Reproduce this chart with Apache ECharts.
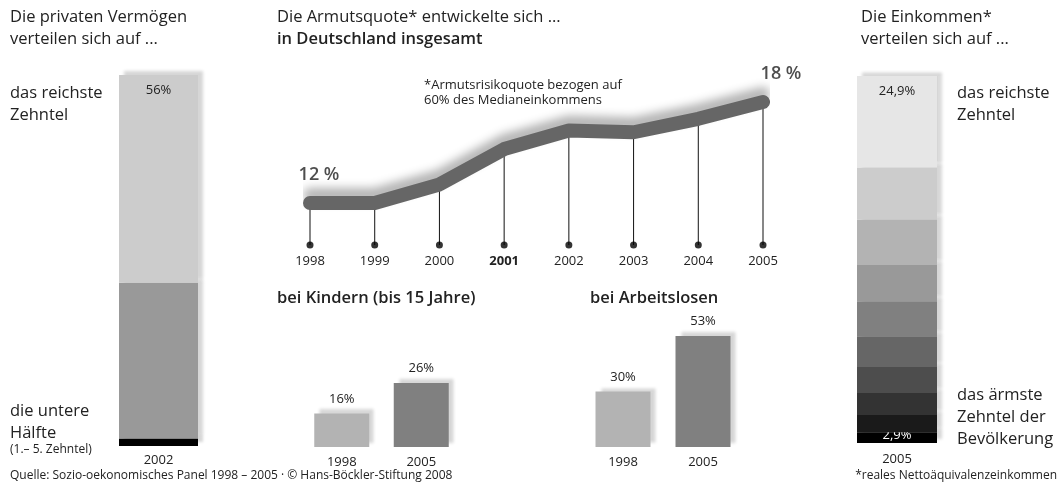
<!DOCTYPE html>
<html>
<head>
<meta charset="utf-8">
<script src="https://cdn.jsdelivr.net/npm/echarts@6/dist/echarts.min.js"></script>
<style>
  html, body { margin: 0; padding: 0; background: #fff; }
  #chart { width: 1059px; height: 486px; }
</style>
</head>
<body>
<div id="chart"></div>
<script>
// Vermögen 2002: untere Hälfte, 6.-9. Zehntel, reichstes Zehntel
const wealthYear = ['2002'];
const wealthShares = [2, 42, 56];
const wealthColors = ['#000000', '#999999', '#cccccc'];

// Einkommen 2005, Zehntel von unten (ärmstes) nach oben (reichstes)
const incomeYear = ['2005'];
const incomeShares = [2.9, 4.7, 6.0, 7.1, 8.4, 9.5, 9.9, 12.4, 14.2, 24.9];
const incomeColors = ['#000000', '#1a1a1a', '#333333', '#4d4d4d', '#666666',
                      '#808080', '#999999', '#b3b3b3', '#cccccc', '#e6e6e6'];

// Armutsquote insgesamt
const years = ['1998', '1999', '2000', '2001', '2002', '2003', '2004', '2005'];
const povertyRate = [12, 12, 13.1, 15.2, 16.3, 16.2, 17, 18];
const lineMin = 9.5;

// Armutsquote Gruppen
const groupYears = ['1998', '2005'];
const children = [16, 26];
const unemployed = [30, 53];
const groupColors = ['#b3b3b3', '#808080'];

const font = '"Open Sans", "Noto Sans", sans-serif';
const ink = '#222';

const chart = echarts.init(document.getElementById('chart'));

const barShadow = {
  shadowColor: 'rgba(0,0,0,0.16)',
  shadowBlur: 3,
  shadowOffsetX: 5,
  shadowOffsetY: -4
};

function hiddenY(idx, min, max) {
  return { gridIndex: idx, type: 'value', min: min, max: max, show: false };
}
function catX(idx, data, margin) {
  return {
    gridIndex: idx, type: 'category', data: data,
    axisLine: { show: false }, axisTick: { show: false },
    axisLabel: { color: ink, fontFamily: font, fontSize: 13, margin: margin }
  };
}
const comma = p => String(p.value).replace('.', ',') + '%';

const series = [];

// left: Vermögen
wealthShares.forEach((v, i) => {
  let label = { show: false };
  if (i === wealthShares.length - 1) {
    label = { show: true, position: 'insideTop', distance: 9, formatter: '{c}%', color: ink, fontFamily: font, fontSize: 13 };
  } else if (i === 0) {
    label = { show: true, position: 'top', distance: 2, formatter: '{c}%', color: ink, fontFamily: font, fontSize: 13 };
  }
  series.push({
    type: 'bar', xAxisIndex: 0, yAxisIndex: 0, stack: 'w', barWidth: '100%',
    data: [v], itemStyle: Object.assign({ color: wealthColors[i] }, barShadow),
    label: label, silent: true, z: 2 + i
  });
});

// right: Einkommen
incomeShares.forEach((v, i) => {
  let label = { show: false };
  if (i === incomeShares.length - 1) {
    label = { show: true, position: 'insideTop', distance: 9, formatter: comma, color: ink, fontFamily: font, fontSize: 13 };
  } else if (i === 0) {
    label = { show: true, position: 'insideBottom', distance: 1, formatter: comma, color: '#fff', fontFamily: font, fontSize: 13 };
  }
  series.push({
    type: 'bar', xAxisIndex: 1, yAxisIndex: 1, stack: 'e', barWidth: '100%',
    data: [v], itemStyle: Object.assign({ color: incomeColors[i] }, barShadow),
    label: label, silent: true, z: 2 + i
  });
});

// middle: drop lines, dots and the thick line
series.push({
  type: 'bar', xAxisIndex: 2, yAxisIndex: 2, barWidth: 1, silent: true,
  data: povertyRate, itemStyle: { color: '#111' }, z: 1
});
series.push({
  type: 'scatter', xAxisIndex: 2, yAxisIndex: 2, symbolSize: 7, silent: true,
  data: years.map(() => lineMin), itemStyle: { color: '#000' }, z: 2
});
series.push({
  type: 'line', xAxisIndex: 2, yAxisIndex: 2, symbol: 'none', silent: true, z: 5,
  data: povertyRate,
  lineStyle: {
    width: 14, color: '#666666', cap: 'round', join: 'round',
    shadowColor: 'rgba(0,0,0,0.3)', shadowBlur: 10, shadowOffsetY: -8
  }
});
// start and end value labels
const lastIdx = povertyRate.length - 1;
series.push({
  type: 'scatter', xAxisIndex: 2, yAxisIndex: 2, symbolSize: 1, silent: true, z: 6,
  itemStyle: { color: 'rgba(0,0,0,0)' },
  data: [
    { value: [years[0], povertyRate[0]], label: { offset: [9, 0] } },
    { value: [years[lastIdx], povertyRate[lastIdx]], label: { offset: [18, 0] } }
  ],
  label: {
    show: true, position: 'top', distance: 19,
    formatter: p => p.value[1] + ' %', color: ink, fontFamily: font, fontSize: 18, fontWeight: 600
  }
});

// groups
function groupSeries(idx, data) {
  return {
    type: 'bar', xAxisIndex: idx, yAxisIndex: idx, barWidth: 55, silent: true,
    data: data.map((v, i) => ({ value: v, itemStyle: Object.assign({ color: groupColors[i] }, barShadow) })),
    label: { show: true, position: 'top', distance: 8, formatter: '{c}%', color: ink, fontFamily: font, fontSize: 13 }
  };
}
series.push(groupSeries(3, children));
series.push(groupSeries(4, unemployed));

const texts = [
  { t: 'Die privaten Vermögen', x: 10, y: 9 },
  { t: 'verteilen sich auf ...', x: 10, y: 31 },
  { t: 'das reichste', x: 10, y: 85 },
  { t: 'Zehntel', x: 10, y: 107 },
  { t: 'die untere', x: 10, y: 403 },
  { t: 'Hälfte', x: 10, y: 425 },
  { t: '(1.– 5. Zehntel)', x: 10, y: 444, s: 12 },
  { t: 'Die Armutsquote* entwickelte sich ...', x: 277, y: 9 },
  { t: 'in Deutschland insgesamt', x: 277, y: 31, b: true },
  { t: '*Armutsrisikoquote bezogen auf', x: 424, y: 79, s: 13 },
  { t: '60% des Medianeinkommens', x: 424, y: 94, s: 13 },
  { t: 'bei Kindern (bis 15 Jahre)', x: 277, y: 290, b: true },
  { t: 'bei Arbeitslosen', x: 590, y: 290, b: true },
  { t: 'Die Einkommen*', x: 861, y: 9 },
  { t: 'verteilen sich auf ...', x: 861, y: 31 },
  { t: 'das reichste', x: 957, y: 85 },
  { t: 'Zehntel', x: 957, y: 107 },
  { t: 'das ärmste', x: 957, y: 387 },
  { t: 'Zehntel der', x: 957, y: 409 },
  { t: 'Bevölkerung', x: 957, y: 431 },
  { t: 'Quelle: Sozio-oekonomisches Panel 1998 – 2005 · © Hans-Böckler-Stiftung 2008', x: 10, y: 470, s: 12 },
  { t: '*reales Nettoäquivalenzeinkommen', x: 1057, y: 470, s: 12, r: true }
];

const option = {
  animation: false,
  backgroundColor: '#fff',
  grid: [
    { left: 119, width: 79, top: 75, bottom: 40 },
    { left: 857, width: 80, top: 76, bottom: 43 },
    { left: 310, width: 453, top: 68.3, bottom: 241 },
    { left: 302, width: 159, top: 383, bottom: 39 },
    { left: 583, width: 160, top: 336, bottom: 39 }
  ],
  xAxis: [
    catX(0, wealthYear, 8),
    catX(1, incomeYear, 10),
    Object.assign(catX(2, years.map(y => y === '2001' ? { value: y, textStyle: { fontWeight: 'bold' } } : y), 10), { boundaryGap: false }),
    catX(3, groupYears, 9),
    catX(4, groupYears, 9)
  ],
  yAxis: [
    hiddenY(0, 0, 100),
    hiddenY(1, 0, 100),
    hiddenY(2, lineMin, 20),
    hiddenY(3, 5, 26),
    hiddenY(4, 7, 53)
  ],
  series: series,
  graphic: texts.map(o => ({
    type: 'text', left: o.r ? undefined : o.x, right: o.r ? 1059 - o.x : undefined, top: o.y, silent: true,
    style: {
      text: o.t, fill: ink,
      font: (o.b ? '600 ' : '') + (o.s || 16.5) + 'px ' + font
    }
  }))
};

chart.setOption(option);
</script>
</body>
</html>
